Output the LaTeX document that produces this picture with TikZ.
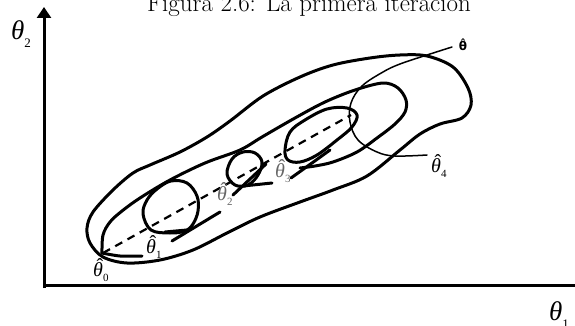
\documentclass[tikz,border=0pt]{standalone}
\usepackage{fontspec}
\usetikzlibrary{arrows.meta}
\newfontfamily\greekserif{Liberation Serif}
\newfontfamily\greeksans{DejaVu Sans}
% hatted iterate label with a lowered index
\newcommand{\itlab}[1]{{\greekserif\fontsize{20}{24}\selectfont\rlap{\raisebox{4pt}{\kern3.5pt ˆ}}\itshape θ}\raisebox{-5pt}{\greekserif\fontsize{11}{13}\selectfont #1}}
\newcommand{\axlab}[1]{{\greekserif\itshape\fontsize{27}{32}\selectfont θ}\raisebox{-8pt}{\greekserif\fontsize{13}{15}\selectfont #1}}
\begin{document}
\begin{tikzpicture}[x=1pt,y=-1pt,
  contour/.style={line width=3pt, line cap=round, line join=round},
  thinline/.style={line width=1.5pt, line cap=round},
  axis/.style={line width=3pt},
  iterlab/.style={anchor=base west, inner sep=0pt},
  path/.style={line width=2.2pt, dash pattern=on 8pt off 6pt}]
\useasboundingbox (0,0) rectangle (575,326);

% caption (its upper half lies above the page)
\node[anchor=base] (caption) at (309,12) {\fontsize{25}{30}\selectfont Figura 2.6: La primera iteración};

% axes
\coordinate (origin) at (44,285);
\coordinate (ytop) at (44,7);
\coordinate (xend) at (575,285);
\draw[axis, -{Triangle[width=14pt,length=11pt]}] (44,288) -- (ytop);
\draw[axis] (origin) -- (xend);
\node[anchor=base west, inner sep=0pt] (ylab) at (11,40) {\axlab{2}};
\node[anchor=base west, inner sep=0pt] (xlab) at (549,320) {\axlab{1}};

% outer contour
\draw[contour] plot[smooth cycle, tension=0.55] coordinates {
  (93,212) (113,190) (133,173) (150,165) (180,152) (207,137) (230,121) (263,96)
  (300,77) (333,65) (370,58) (400,55) (427,56) (453,67) (468,88) (471,105)
  (462,118) (440,124) (420,134) (400,150) (367,176) (333,190) (300,202)
  (260,217) (227,233) (193,250) (160,260) (127,263) (103,257) (90,243) (87,228)};

% inner contour: upper side and right end
\draw[contour] plot[smooth, tension=0.55] coordinates {
  (102,253) (103,235) (110,222) (122,211) (140,198) (170,180) (205,163)
  (240,150) (262,137) (295,118) (325,102) (355,90) (383,83) (398,88)
  (406,100) (405,112) (395,124) (377,138) (357,152) (333,162) (315,166) (300,168)};
% inner contour: lower side, broken by the labels
\draw[contour] plot[smooth] coordinates {(102,253) (120,256) (142,256)};
\draw[contour] (172,241) -- (220,212);
\draw[contour] (233,195) -- (266,164);
\draw[contour] plot[smooth] coordinates {(291,178) (312,163) (330,150)};

% local approximations around the iterates
\draw[contour] plot[smooth cycle, tension=0.6] coordinates {
  (143,214) (147,200) (157,189) (171,181) (187,183) (197,196) (198,211)
  (193,224) (185,231) (170,233) (151,230)};
\draw[contour] (165,232) -- (187,230);
\draw[contour] plot[smooth cycle, tension=0.6] coordinates {
  (227,174) (232,159) (243,152) (255,153) (262,162) (258,175) (248,185) (235,185)};
\draw[contour] (243,186) -- (272,183);
\draw[contour] plot[smooth cycle, tension=0.6] coordinates {
  (285,150) (290,132) (305,120) (327,109) (347,108) (357,115) (352,127)
  (337,140) (317,155) (300,162) (288,160)};

% path of the iterates
\draw[path] (103,253) -- (351,115);

% labels
\node[anchor=center, inner sep=1pt] (thetahat) at (463,45)
  {\greeksans\bfseries\fontsize{12}{14}\selectfont θ̂};
\node[iterlab] (t0) at (93,276) {\itlab{0}};
\node[iterlab] (t1) at (146,253) {\itlab{1}};
\node[iterlab, text=black!60] (t2) at (217,200) {\itlab{2}};
\node[iterlab, text=black!60] (t3) at (275,177) {\itlab{3}};
\node[iterlab] (t4) at (431,172) {\itlab{4}};

% last approximation, drawn thin, running from the optimum label
\draw[thinline] plot[smooth, tension=0.6] coordinates {
  (452,47) (427,55) (400,64) (383,72) (362,86) (351,103) (350,122)
  (358,140) (377,152) (395,156) (427,155)};
\end{tikzpicture}
\end{document}
